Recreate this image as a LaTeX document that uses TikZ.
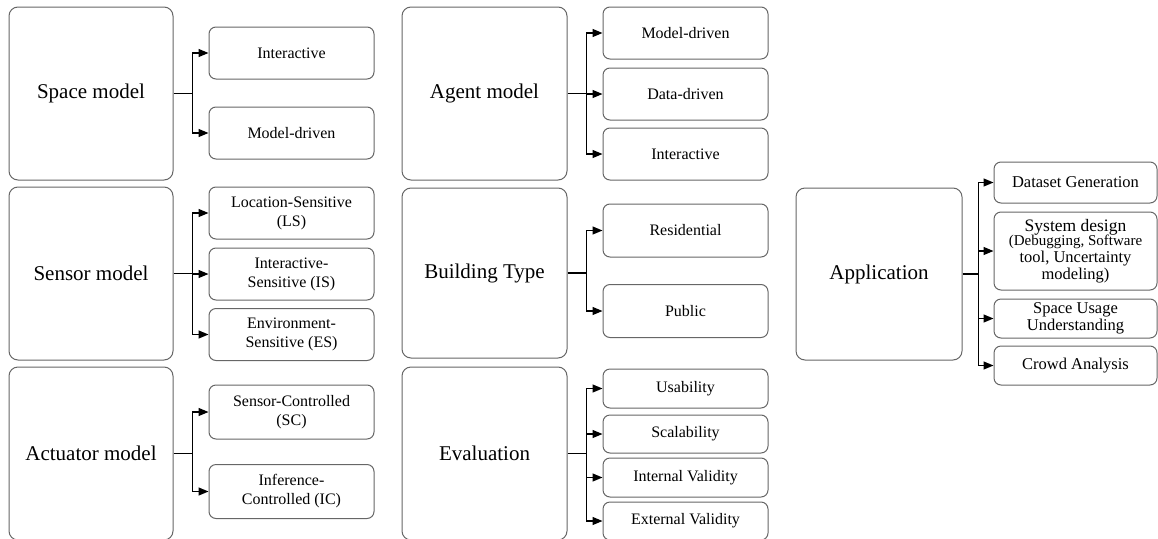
\documentclass[tikz,border=0pt]{standalone}
\usepackage{fontspec}
\setmainfont{Liberation Serif}
\usetikzlibrary{arrows.meta}

\definecolor{boxgray}{HTML}{666666}
\tikzset{
  big/.style={draw=boxgray, line width=1pt, rounded corners=9pt,
    minimum width=#1, minimum height=173pt, inner sep=0pt,
    font=\fontsize{21}{25}\selectfont},
  big/.default=164pt,
  leaf/.style={draw=boxgray, line width=1pt, rounded corners=7pt,
    minimum width=165pt, minimum height=#1, inner sep=0pt, align=center,
    font=\fontsize{16}{19}\selectfont},
  leaf/.default=52pt,
  appleaf/.style={leaf=#1, minimum width=163pt,
    font=\fontsize{16.5}{17}\selectfont},
  subnote/.style={font=\fontsize{15}{13}\selectfont},
  conn/.style={line width=1.3pt, -{Triangle[length=10pt,width=8pt]}},
  trunk/.style={line width=1.3pt},
}

\begin{document}
\begin{tikzpicture}[x=1pt, y=-1pt]
\useasboundingbox (0,0) rectangle (1158,538);

% ---- first column: space, sensor and actuator models
\node[big] (space) at (91,93.5) {Space model};
\node[big] (sensor) at (91,273.5) {Sensor model};
\node[big] (actuator) at (91,453.5) {Actuator model};

\node[leaf] (sp1) at (291.5,53) {Interactive};
\node[leaf] (sp2) at (291.5,133) {Model-driven};

\node[leaf] (se1) at (291.5,213) {Location-Sensitive\\(LS)};
\node[leaf] (se2) at (291.5,274) {Interactive-\\Sensitive (IS)};
\node[leaf] (se3) at (291.5,334.5) {Environment-\\Sensitive (ES)};

\node[leaf=54pt] (ac1) at (291.5,412) {Sensor-Controlled\\(SC)};
\node[leaf=54pt] (ac2) at (291.5,491.5) {Inference-\\Controlled (IC)};

% ---- second column: agent model, building type, evaluation
\node[big=165pt] (agent) at (484.5,93.5) {Agent model};
\node[big=165pt, minimum height=170pt] (building) at (484.5,273) {Building Type};
\node[big=165pt] (evaluation) at (484.5,453.5) {Evaluation};

\node[leaf] (ag1) at (685.5,33) {Model-driven};
\node[leaf] (ag2) at (685.5,94) {Data-driven};
\node[leaf] (ag3) at (685.5,154) {Interactive};

\node[leaf=53pt] (bu1) at (685.5,230.5) {Residential};
\node[leaf=53pt] (bu2) at (685.5,311) {Public};

\node[leaf=39pt] (ev1) at (685.5,388.5) {Usability};
\node[leaf=38pt] (ev2) at (685.5,434) {Scalability};
\node[leaf=39pt] (ev3) at (685.5,477.5) {Internal Validity};
\node[leaf=38pt] (ev4) at (685.5,521) {External Validity};

% ---- third column: application
\node[big=166pt, minimum height=172pt] (application) at (879,274) {Application};

\node[appleaf=41pt] (ap1) at (1075.5,182.5) {Dataset Generation};
\node[appleaf=78pt] (ap2) at (1075.5,251)
  {\fontsize{17.5}{17}\selectfont System design\\[-3pt]
   \fontsize{15}{13}\selectfont (Debugging, Software\\
   tool, Uncertainty\\
   modeling)};
\node[appleaf=39pt] (ap3) at (1075.5,318.5) {Space Usage\\Understanding};
\node[appleaf=39pt] (ap4) at (1075.5,365.5) {Crowd Analysis};

% ---- branching connectors
\foreach \parent/\kids in {space/{sp1,sp2}, sensor/{se1,se2,se3},
    actuator/{ac1,ac2}, agent/{ag1,ag2,ag3}, building/{bu1,bu2},
    evaluation/{ev1,ev2,ev3,ev4}}{
  \coordinate (\parent-split) at ([xshift=19pt]\parent.east);
  \draw[trunk] (\parent.east) -- (\parent-split);
  \foreach \k in \kids {
    \draw[conn] (\parent-split) |- (\k.west);
  }
}
\coordinate (application-split) at ([xshift=16pt]application.east);
\draw[trunk] (application.east) -- (application-split);
\foreach \k in {ap1,ap2,ap3,ap4}{
  \draw[conn] (application-split) |- (\k.west);
}
\end{tikzpicture}
\end{document}
